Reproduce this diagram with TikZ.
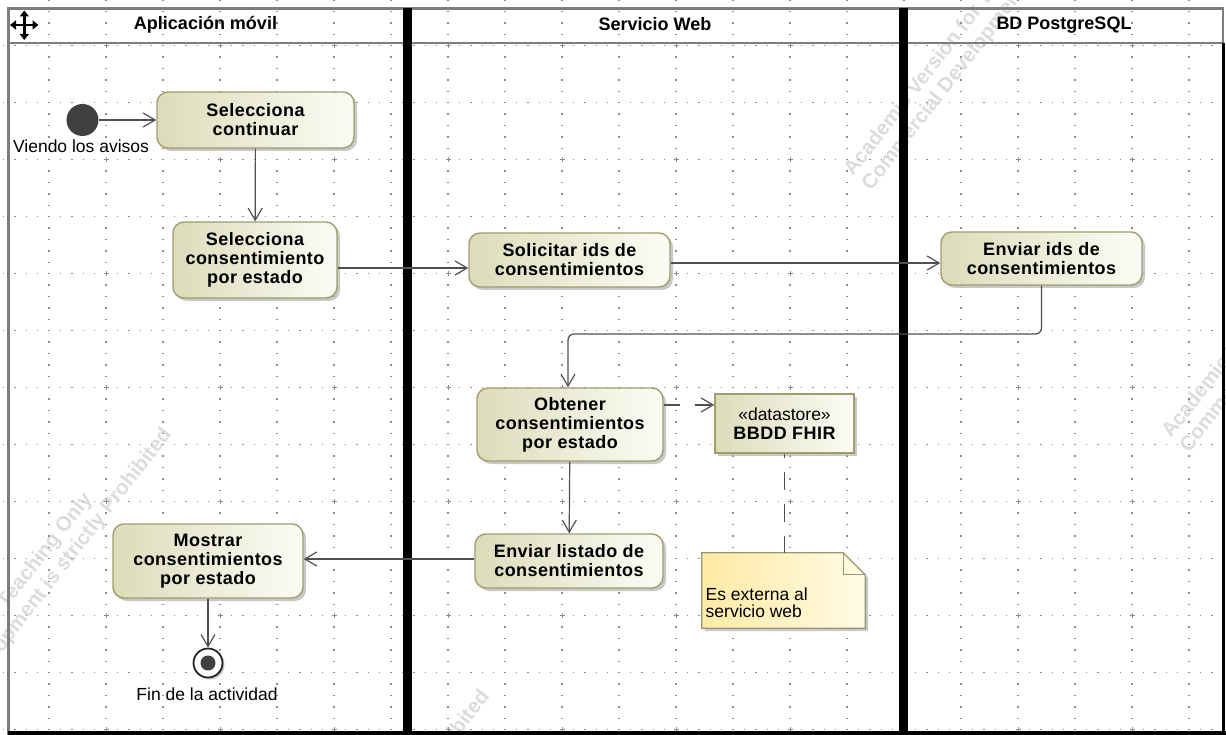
\documentclass[tikz,border=0pt]{standalone}
\usepackage{fontspec}
\setmainfont{Liberation Sans}
\newfontfamily\spacedsans{Liberation Sans}[LetterSpace=2.5]
\usetikzlibrary{arrows.meta,shadows,calc}

\definecolor{actL}{RGB}{220,220,186}
\definecolor{actR}{RGB}{252,252,246}
\definecolor{actB}{RGB}{158,158,108}
\definecolor{noteL}{RGB}{255,234,165}
\definecolor{noteR}{RGB}{255,251,228}
\definecolor{noteB}{RGB}{150,150,120}
\definecolor{flowC}{RGB}{80,80,80}
\definecolor{gridC}{RGB}{140,140,140}
\definecolor{frameC}{RGB}{125,125,125}
\definecolor{markC}{RGB}{220,220,220}
\definecolor{startC}{RGB}{64,64,64}

\newcommand\actfont{\spacedsans\bfseries\fontsize{18}{19}\selectfont}
\newcommand\lanefont{\bfseries\fontsize{18}{20}\selectfont}
\newcommand\plainfont{\fontsize{17.5}{17.5}\selectfont}
\newcommand\markfont{\bfseries\fontsize{20.5}{20.5}\selectfont}

\tikzset{
  action/.style={draw=actB, line width=1.4pt, rounded corners=11pt,
    left color=actL, right color=actR, align=center, font=\actfont,
    inner sep=0pt,
    drop shadow={shadow xshift=3pt, shadow yshift=-3pt, fill=black!30, opacity=0.7}},
  store/.style={draw=actB, line width=1.4pt, left color=actL, right color=actR,
    align=center, inner sep=0pt,
    drop shadow={shadow xshift=3pt, shadow yshift=-3pt, fill=black!30, opacity=0.7}},
  flow/.style={draw=flowC, line width=1.2pt, -{Straight Barb[length=12pt,width=14pt]}},
  gridline/.style={draw=gridC, line width=1.3pt, dash pattern=on 1.4pt off 10pt},
  laneline/.style={draw=frameC, line width=2.5pt},
  lanebar/.style={draw=black, line width=9pt},
  wm/.style={rotate=52, font=\markfont, text=markC, inner sep=0pt, anchor=base west},
  label/.style={font=\plainfont, inner sep=0pt, anchor=base},
  movetip/.style={line width=2.6pt, {Triangle[length=6pt,width=9pt]}-{Triangle[length=6pt,width=9pt]}}
}

\begin{document}
\begin{tikzpicture}[x=1pt,y=-1pt]
\useasboundingbox (0,0) rectangle (1226,735);
\clip (0,0) rectangle (1226,735);
\fill[white] (0,0) rectangle (1226,735);

% faint tiled watermark
\foreach \sx/\sy [count=\c] in {853/177, -126/779, 1171/439, 192/1041} {
  \node[wm] (wm\c a) at (\sx,\sy) {Academic Version for Teaching Only};
  \node[wm] (wm\c b) at (\sx+18.1,\sy+14.2) {Commercial Development is strictly Prohibited};
}

% dotted grid
\foreach \k in {-1,...,21}
  \draw[gridline] ({49+57*\k},-0.6) -- ({49+57*\k},740);
\foreach \k in {-1,...,12}
  \draw[gridline] (-8.7,{45.7+57*\k}) -- (1240,{45.7+57*\k});
\foreach \i in {0,...,11}
  \foreach \j in {0,...,6}
    \draw[gridC, line width=1pt] ({-8+114*\i-2.5},{45.7+114*\j}) -- ++(5,0)
      ({-8+114*\i},{45.7+114*\j-2.5}) -- ++(0,5);

% swimlane frame
\draw[laneline] (8.5,735) -- (8.5,8.5) -- (1223,8.5) -- (1223,43);
\draw[laneline] (8.5,43) -- (1223,43);
\draw[black, line width=3.5pt] (1223.5,43) -- (1223.5,735);
\draw[black, line width=5pt] (8,733) -- (1226,733);
\draw[lanebar] (407.5,8) -- (407.5,735);
\draw[lanebar] (903,8) -- (903,735);

% move handle
\draw[movetip] (10,25) -- (38.5,25);
\draw[movetip] (24.3,10.5) -- (24.3,40);

% lane titles
\node[font=\lanefont, inner sep=0pt] (lane1) at (205.5,25) {Aplicación móvil};
\node[font=\lanefont, inner sep=0pt] (lane2) at (655,24.5) {Servicio Web};
\node[font=\lanefont, inner sep=0pt] (lane3) at (1064,25) {BD PostgreSQL};

% nodes
\node[circle, fill=startC, minimum size=32pt, inner sep=0pt] (n1) at (82.5,120) {};
\node[label] (l1) at (81,153) {Viendo los avisos};

\node[action, minimum width=197pt, minimum height=56pt] (n2) at (255.5,120)
  {Selecciona\\continuar};
\node[action, minimum width=164pt, minimum height=76pt] (n3) at (255,260)
  {Selecciona\\consentimiento\\por estado};
\node[action, minimum width=201pt, minimum height=54pt] (n4) at (569.5,260)
  {Solicitar ids de\\consentimientos};
\node[action, minimum width=201pt, minimum height=53pt] (n5) at (1041.5,258.5)
  {Enviar ids de\\consentimientos};
\node[action, minimum width=186pt, minimum height=73pt] (n6) at (570,424.5)
  {Obtener\\consentimientos\\por estado};
\node[store, minimum width=139pt, minimum height=59pt] (n7) at (784.5,423.5)
  {{\plainfont «datastore»}\\[6pt]{\actfont BBDD FHIR}};
\node[action, minimum width=188pt, minimum height=54pt] (n9) at (569,561)
  {Enviar listado de\\consentimientos};
\node[action, minimum width=190pt, minimum height=74pt] (n10) at (208,561)
  {Mostrar\\consentimientos\\por estado};

\node[circle, draw=black!85, line width=1.8pt, fill=white, minimum size=29pt,
  inner sep=0pt, drop shadow={shadow xshift=2pt, shadow yshift=-2pt, fill=black!30, opacity=0.7}]
  (n11) at (208,663) {};
\node[circle, fill=startC, minimum size=15pt, inner sep=0pt] (n11c) at (n11) {};
\node[label] (l2) at (207,700) {Fin de la actividad};

% note with folded corner
\node[minimum width=163pt, minimum height=75pt, inner sep=0pt] (n8) at (783.5,590.5) {};
\fill[black!30, opacity=0.7] ($(n8.north west)+(3,3)$) -- ($(n8.north east)+(-19,3)$)
  -- ($(n8.north east)+(3,25)$) -- ($(n8.south east)+(3,3)$) -- ($(n8.south west)+(3,3)$) -- cycle;
\shade[left color=noteL, right color=noteR] (n8.north west) -- ($(n8.north east)+(-22,0)$)
  -- ($(n8.north east)+(0,22)$) -- (n8.south east) -- (n8.south west) -- cycle;
\draw[noteB, line width=1.2pt] (n8.north west) -- ($(n8.north east)+(-22,0)$)
  -- ($(n8.north east)+(0,22)$) -- (n8.south east) -- (n8.south west) -- cycle;
\draw[noteB, line width=1.2pt] ($(n8.north east)+(-22,0)$) -- ($(n8.north east)+(-22,22)$)
  -- ($(n8.north east)+(0,22)$);
\node[font=\plainfont, align=left, inner sep=0pt, anchor=north west] (n8t) at (705.5,587.5)
  {Es externa al\\servicio web};

% control flows
\coordinate (yA) at (0,268);
\coordinate (yB) at (0,263);
\coordinate (yC) at (0,334);
\coordinate (yD) at (0,405);
\coordinate (yE) at (0,559);

\draw[flow] (n1) -- (n2);
\draw[flow] (n2) -- (n3);
\draw[flow] (n3.east |- yA) -- (n4.west |- yA);
\draw[flow] (n4.east |- yB) -- (n5.west |- yB);
\draw[flow, rounded corners=6pt] (n5.south) -- (n5.south |- yC) -- ($(n6.north |- yC)+(-2,0)$)
  -- ($(n6.north)+(-2,0)$);
\draw[flow, dash pattern=on 16pt off 15pt] (n6.east |- yD) -- (n7.west |- yD);
\draw[draw=flowC, line width=1.2pt, dash pattern=on 18pt off 14pt, dash phase=14pt]
  (n7.south) -- (n7.south |- n8.north);
\draw[flow] (n6) -- (n9);
\draw[flow] (n9.west |- yE) -- (n10.east |- yE);
\draw[flow] (n10) -- (n11);
\end{tikzpicture}
\end{document}
